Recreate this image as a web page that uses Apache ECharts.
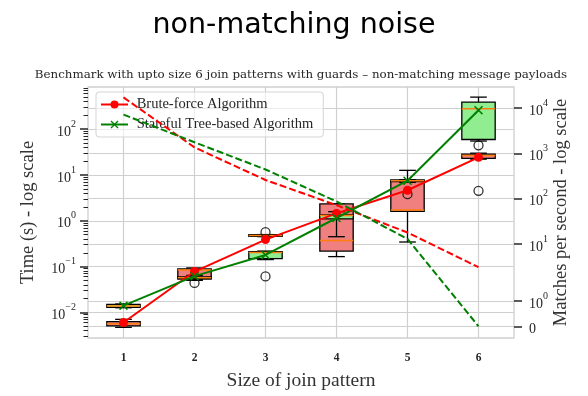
<!DOCTYPE html>
<html>
<head>
<meta charset="utf-8">
<script src="https://cdn.jsdelivr.net/npm/echarts@6/dist/echarts.min.js"></script>
<style>
  html, body { margin: 0; padding: 0; background: #ffffff; }
  #chart { width: 588px; height: 396px; }
</style>
</head>
<body>
<div id="chart"></div>
<script>
// Join pattern sizes on the x axis
const sizes = [1, 2, 3, 4, 5, 6];

// Execution time boxes (s): [lower whisker, Q1, median, Q3, upper whisker]
const bruteTimeBoxes = [
  [0.0047, 0.00506, 0.00562, 0.00627, 0.00703],
  [0.0513, 0.0533, 0.0838, 0.0889, 0.0933],
  [0.450, 0.456, 0.475, 0.496, 0.500],
  [0.165, 0.218, 0.369, 2.34, 2.34],
  [0.344, 1.61, 1.72, 7.75, 12.65],
  [22.2, 23.2, 26.8, 28.6, 30.0]
];
const statefulTimeBoxes = [
  [0.0126, 0.01285, 0.0138, 0.0149, 0.0152],
  [0.0500, 0.0552, 0.0570, 0.0594, 0.0640],
  [0.142, 0.1496, 0.203, 0.211, 0.218],
  [0.449, 1.10, 1.31, 1.34, 1.58],
  [6.9, 7.2, 7.5, 7.7, 7.9],
  [55.2, 59.7, 279, 393, 503]
];

// Outlier runs: [size, time (s)]
const bruteOutliers = [[3, 0.563], [6, 4.52]];
const statefulOutliers = [[2, 0.0438], [3, 0.061], [5, 3.82], [6, 44.5]];

// Mean execution time (s)
const bruteMeanTime = [0.0060, 0.0778, 0.388, 1.45, 4.65, 24.3];
const statefulMeanTime = [0.0140, 0.0618, 0.179, 1.15, 7.5, 261];

// Matches per second
const bruteMatchRate = [17000, 1350, 258, 72, 18, 3.1];
const statefulMatchRate = [7100, 1750, 440, 87, 13, 0];

// Tick values
const timeTickValues = [0.01, 0.1, 1, 10, 100];
const rateTickValues = [0, 1, 10, 100, 1000, 10000];

// Axis ranges
const TIME_MIN = 0.00275, TIME_MAX = 837;

// Symmetric log transform (linthresh 2, linscale 1, base 10)
const LINTHRESH = 2;
const LINSCALE_ADJ = 1 / (1 - 1 / 10);
function symlog(v) {
  const a = Math.abs(v);
  const t = a <= LINTHRESH ? a * LINSCALE_ADJ
    : LINTHRESH * (LINSCALE_ADJ + Math.log10(a / LINTHRESH));
  return v < 0 ? -t : t;
}
const RATE_MIN = -0.515, RATE_MAX = 10.54;
const rateTickPositions = rateTickValues.map(symlog);

// Minor ticks of the time axis
const timeMinorTicks = [];
for (let d = -3; d <= 2; d++) {
  for (let k = 2; k <= 9; k++) {
    const v = k * Math.pow(10, d);
    if (v >= TIME_MIN && v <= TIME_MAX) timeMinorTicks.push(v);
  }
}

const SERIF = 'Liberation Serif';
const TEXT = '#262626';
const GRID = '#cfcfcf';
const MEDIAN = '#ff7f0e';
const BOX_WIDTH = 0.47;
const X_SYMBOL = 'path://M0,1.2L1.2,0L5,3.8L8.8,0L10,1.2L6.2,5L10,8.8L8.8,10L5,6.2L1.2,10L0,8.8L3.8,5Z';

const supRich = {
  b: { fontFamily: SERIF, fontSize: 14, color: TEXT, lineHeight: 20, verticalAlign: 'bottom' },
  s: { fontFamily: SERIF, fontSize: 10, color: TEXT, lineHeight: 10, verticalAlign: 'top' }
};
function powerLabel(exp) {
  const e = exp < 0 ? '\u2212' + (-exp) : String(exp);
  return '{b|10}{s|' + e + '}';
}

function boxRenderer(fill) {
  return function (params, api) {
    const x = api.value(0);
    const lo = api.coord([x, api.value(1)]);
    const q1 = api.coord([x, api.value(2)]);
    const md = api.coord([x, api.value(3)]);
    const q3 = api.coord([x, api.value(4)]);
    const hi = api.coord([x, api.value(5)]);
    const left = api.coord([x - BOX_WIDTH / 2, api.value(3)])[0];
    const right = api.coord([x + BOX_WIDTH / 2, api.value(3)])[0];
    const cx = md[0];
    const w = right - left;
    const seg = (x1, y1, x2, y2, stroke, lw) => ({
      type: 'line', shape: { x1, y1, x2, y2 }, style: { stroke, lineWidth: lw }
    });
    return {
      type: 'group',
      children: [
        seg(cx, q3[1], cx, hi[1], '#000', 1.3),
        seg(cx, q1[1], cx, lo[1], '#000', 1.3),
        seg(cx - w / 4, hi[1], cx + w / 4, hi[1], '#000', 1.3),
        seg(cx - w / 4, lo[1], cx + w / 4, lo[1], '#000', 1.3),
        {
          type: 'rect',
          shape: { x: left, y: q3[1], width: w, height: q1[1] - q3[1] },
          style: { fill, stroke: '#000', lineWidth: 1.3 }
        },
        seg(left, md[1], right, md[1], MEDIAN, 1.5)
      ]
    };
  };
}

const chart = echarts.init(document.getElementById('chart'), null, { renderer: 'canvas' });

chart.setOption({
  animation: false,
  backgroundColor: '#ffffff',
  title: [
    {
      text: 'non-matching noise',
      left: 'center', top: 6,
      textStyle: { fontFamily: 'DejaVu Sans', fontSize: 28.5, fontWeight: 'normal', color: '#000' }
    },
    {
      // centred over the plot area
      text: 'Benchmark with upto size 6 join patterns with guards \u2013 non-matching message payloads',
      left: 296, top: 64, textAlign: 'center',
      textStyle: { fontFamily: 'DejaVu Serif', fontSize: 11.85, fontWeight: 'normal', color: TEXT }
    }
  ],
  legend: {
    data: ['Brute-force Algorithm', 'Stateful Tree-based Algorithm'],
    orient: 'vertical',
    left: 96, top: 92,
    itemWidth: 27, itemHeight: 10, itemGap: 5,
    padding: [5, 10, 5, 4],
    backgroundColor: 'rgba(255,255,255,0.6)',
    borderColor: '#d5d5d5', borderWidth: 1, borderRadius: 3,
    formatter: name => ' ' + name,
    textStyle: { fontFamily: SERIF, fontSize: 14.5, color: TEXT }
  },
  grid: {
    left: 88, right: 74, top: 87, bottom: 52,
    show: true, borderColor: GRID, borderWidth: 1.3, backgroundColor: 'transparent'
  },
  xAxis: {
    type: 'value', min: 0.5, max: 6.5,
    axisLine: { show: false },
    axisTick: { show: false, customValues: sizes },
    axisLabel: { customValues: sizes, fontFamily: SERIF, fontSize: 11.5, fontWeight: 'bold', color: TEXT, margin: 14 },
    splitLine: { show: true, customValues: sizes, lineStyle: { color: GRID, width: 1.2 } },
    name: 'Size of join pattern', nameLocation: 'middle', nameGap: 33, nameMoveOverlap: false,
    nameTextStyle: { fontFamily: SERIF, fontSize: 19.5, color: '#333' }
  },
  yAxis: [
    {
      type: 'log', logBase: 10, min: TIME_MIN, max: TIME_MAX, position: 'left',
      axisLine: { show: false },
      axisTick: { show: true, customValues: timeTickValues, length: 8, lineStyle: { color: TEXT, width: 1.5 } },
      axisLabel: {
        customValues: timeTickValues, margin: 12,
        formatter: v => powerLabel(Math.round(Math.log10(v))),
        rich: supRich
      },
      splitLine: { show: true, customValues: timeTickValues, lineStyle: { color: GRID, width: 1.2 } },
      minorTick: { show: false },
      name: 'Time (s) - log scale', nameLocation: 'middle', nameGap: 50, nameRotate: 90,
      nameMoveOverlap: false,
      nameTextStyle: { fontFamily: SERIF, fontSize: 18.5, color: '#333' }
    },
    {
      type: 'value', min: RATE_MIN, max: RATE_MAX, position: 'right',
      axisLine: { show: false },
      axisTick: { show: true, customValues: rateTickPositions, length: 8, lineStyle: { color: TEXT, width: 1.5 } },
      axisLabel: {
        customValues: rateTickPositions, margin: 15,
        formatter: v => {
          const i = rateTickPositions.findIndex(p => Math.abs(p - v) < 1e-6);
          const r = rateTickValues[i];
          return r === 0 ? '{b|0}' : powerLabel(Math.round(Math.log10(r)));
        },
        rich: supRich
      },
      splitLine: { show: true, customValues: rateTickPositions, lineStyle: { color: GRID, width: 1.2 } },
      name: 'Matches per second - log scale', nameLocation: 'middle', nameGap: 38, nameRotate: 90,
      nameMoveOverlap: false,
      nameTextStyle: { fontFamily: SERIF, fontSize: 18.5, color: '#333' }
    },
    {
      // minor ticks of the time axis
      type: 'log', logBase: 10, min: TIME_MIN, max: TIME_MAX, position: 'left',
      axisLine: { show: false },
      axisTick: { show: true, customValues: timeMinorTicks, length: 4.5, lineStyle: { color: TEXT, width: 1 } },
      axisLabel: { show: false },
      splitLine: { show: false }
    }
  ],
  series: [
    {
      type: 'custom', name: 'Brute-force boxes',
      xAxisIndex: 0, yAxisIndex: 0,
      data: bruteTimeBoxes.map((b, i) => [sizes[i]].concat(b)),
      encode: { x: 0, y: [1, 2, 3, 4, 5] },
      renderItem: boxRenderer('#f08080'),
      z: 2
    },
    {
      type: 'custom', name: 'Stateful boxes',
      xAxisIndex: 0, yAxisIndex: 0,
      data: statefulTimeBoxes.map((b, i) => [sizes[i]].concat(b)),
      encode: { x: 0, y: [1, 2, 3, 4, 5] },
      renderItem: boxRenderer('#90ee90'),
      z: 3
    },
    {
      type: 'scatter', name: 'Outliers',
      xAxisIndex: 0, yAxisIndex: 0,
      data: bruteOutliers.concat(statefulOutliers),
      symbol: 'circle', symbolSize: 9,
      itemStyle: { color: 'rgba(0,0,0,0)', borderColor: '#000', borderWidth: 1.3 },
      z: 3
    },
    {
      type: 'line', name: 'Brute-force Algorithm',
      xAxisIndex: 0, yAxisIndex: 0,
      data: sizes.map((s, i) => [s, bruteMeanTime[i]]),
      symbol: 'circle', symbolSize: 9,
      itemStyle: { color: '#ff0000' },
      lineStyle: { color: '#ff0000', width: 2 },
      z: 4
    },
    {
      type: 'line', name: 'Stateful Tree-based Algorithm',
      xAxisIndex: 0, yAxisIndex: 0,
      data: sizes.map((s, i) => [s, statefulMeanTime[i]]),
      symbol: X_SYMBOL, symbolSize: 9,
      itemStyle: { color: '#008000' },
      lineStyle: { color: '#008000', width: 2 },
      z: 4
    },
    {
      type: 'line', name: 'Brute-force matches per second',
      xAxisIndex: 0, yAxisIndex: 1,
      data: sizes.map((s, i) => [s, symlog(bruteMatchRate[i])]),
      symbol: 'none',
      lineStyle: { color: '#ff0000', width: 2, type: [7, 3] },
      z: 5
    },
    {
      type: 'line', name: 'Stateful matches per second',
      xAxisIndex: 0, yAxisIndex: 1,
      data: sizes.map((s, i) => [s, symlog(statefulMatchRate[i])]),
      symbol: 'none',
      lineStyle: { color: '#008000', width: 2, type: [7, 3] },
      z: 5
    }
  ]
});
</script>
</body>
</html>
